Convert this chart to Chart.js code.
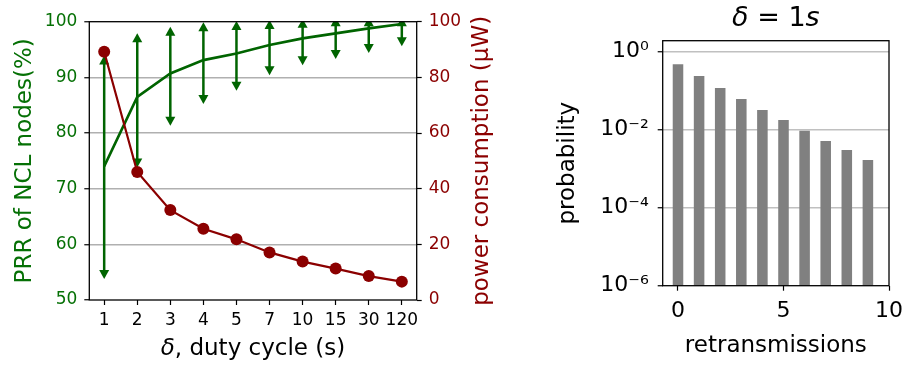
<!DOCTYPE html>
<html>
<head>
<meta charset="utf-8">
<script src="https://cdn.jsdelivr.net/npm/chart.js@4.4.1/dist/chart.umd.min.js"></script>
<style>
    body { margin: 0; background: #fff; }
    #wrap { position: relative; width: 910px; height: 367px; }
    #left { position: absolute; left: 0; top: 0; }
    #right { position: absolute; left: 555px; top: 0; }
</style>
</head>
<body>
<div id="wrap">
    <canvas id="left" width="500" height="367"></canvas>
    <canvas id="right" width="355" height="367"></canvas>
</div>
<script>
// left panel: PRR (with spread) and power vs duty cycle
var dutyCycles = ['1', '2', '3', '4', '5', '7', '10', '15', '30', '120'];
var prrMean = [74.0, 86.5, 90.7, 93.1, 94.3, 95.8, 97.0, 97.9, 98.8, 99.6];
var prrLow = [54.6, 74.6, 82.1, 86.0, 88.4, 91.2, 93.0, 94.1, 95.2, 96.4];
var prrHigh = [93.1, 97.1, 98.3, 99.1, 99.3, 99.5, 99.7, 100, 100, 100];
var powerUW = [89.2, 46.0, 32.3, 25.6, 21.8, 17.1, 13.8, 11.3, 8.6, 6.6];

// right panel: retransmission distribution at delta = 1s
var retransmissions = [0, 1, 2, 3, 4, 5, 6, 7, 8, 9];
var probability = [0.48, 0.24, 0.117, 0.061, 0.032, 0.0177, 0.0094, 0.0051, 0.0030, 0.00166];
var probTicks = [1e-6, 1e-4, 1e-2, 1];
var retxTicks = [0, 5, 10];

var FONT = 'DejaVu Sans';
var GREEN = '#006400';
var GREEN_TXT = '#057005';
var RED = '#8b0000';

Chart.defaults.font.family = FONT;
Chart.defaults.animation = false;

function drawParts(ctx, parts, cx, cy, size, color, vertical) {
    ctx.save();
    ctx.translate(cx, cy);
    if (vertical) ctx.rotate(-Math.PI / 2);
    ctx.fillStyle = color;
    ctx.textBaseline = 'alphabetic';
    ctx.textAlign = 'left';
    var total = 0;
    parts.forEach(p => {
        ctx.font = (p.italic ? 'italic ' : '') + size + 'px "' + FONT + '"';
        p.w = ctx.measureText(p.text).width;
        total += p.w;
    });
    var x = -total / 2;
    parts.forEach(p => {
        ctx.font = (p.italic ? 'italic ' : '') + size + 'px "' + FONT + '"';
        ctx.fillText(p.text, x, 0);
        x += p.w;
    });
    ctx.restore();
}

var framePlugin = {
    id: 'frame',
    afterDatasetsDraw(chart) {
        var a = chart.chartArea, ctx = chart.ctx;
        ctx.save();
        ctx.strokeStyle = '#000';
        ctx.lineWidth = 1.3;
        ctx.strokeRect(a.left, a.top, a.right - a.left, a.bottom - a.top);
        ctx.restore();
    }
};

var errorBarPlugin = {
    id: 'errorBars',
    beforeDatasetsDraw(chart) {
        var ctx = chart.ctx, a = chart.chartArea;
        var xs = chart.scales.x, ys = chart.scales.y;
        ctx.save();
        ctx.beginPath();
        ctx.rect(a.left, a.top, a.right - a.left, a.bottom - a.top);
        ctx.clip();
        ctx.strokeStyle = GREEN;
        ctx.fillStyle = GREEN;
        ctx.lineWidth = 2.5;
        prrMean.forEach((m, i) => {
            var x = xs.getPixelForValue(i);
            var yHi = ys.getPixelForValue(prrHigh[i]);
            var yLo = ys.getPixelForValue(prrLow[i]);
            ctx.beginPath();
            ctx.moveTo(x, yHi);
            ctx.lineTo(x, yLo);
            ctx.stroke();
            // arrow heads centred on the ends
            ctx.beginPath();
            ctx.moveTo(x, yHi - 4.5);
            ctx.lineTo(x - 5, yHi + 4.5);
            ctx.lineTo(x + 5, yHi + 4.5);
            ctx.closePath();
            ctx.fill();
            ctx.beginPath();
            ctx.moveTo(x, yLo + 4.5);
            ctx.lineTo(x - 5, yLo - 4.5);
            ctx.lineTo(x + 5, yLo - 4.5);
            ctx.closePath();
            ctx.fill();
        });
        ctx.restore();
    }
};

var leftLabels = {
    id: 'leftLabels',
    afterDraw(chart) {
        var a = chart.chartArea, ctx = chart.ctx;
        var cx = (a.left + a.right) / 2, cy = (a.top + a.bottom) / 2;
        drawParts(ctx, [{text: 'δ', italic: true}, {text: ', duty cycle (s)'}], cx, 355, 23, '#000');
        drawParts(ctx, [{text: 'PRR of NCL nodes(%)'}], 30.5, cy, 23, GREEN_TXT, true);
        drawParts(ctx, [{text: 'power consumption (µW)'}], a.right + 71, cy, 23, RED, true);
    }
};

new Chart(document.getElementById('left'), {
    type: 'line',
    data: {
        datasets: [
            {
                label: 'power',
                data: powerUW.map((v, i) => ({x: i, y: v})),
                yAxisID: 'y2',
                borderColor: RED,
                backgroundColor: RED,
                borderWidth: 2.2,
                pointRadius: 6,
                pointBorderWidth: 0,
                pointBackgroundColor: RED
            },
            {
                label: 'PRR',
                data: prrMean.map((v, i) => ({x: i, y: v})),
                yAxisID: 'y',
                borderColor: GREEN,
                borderWidth: 2.6,
                pointRadius: 0
            }
        ]
    },
    options: {
        responsive: false,
        layout: { padding: { top: 21.7, left: 0, right: 0, bottom: 0 } },
        plugins: { legend: { display: false }, tooltip: { enabled: false } },
        scales: {
            x: {
                type: 'linear', min: -0.45, max: 9.45,
                afterBuildTicks: s => { s.ticks = dutyCycles.map((d, i) => ({value: i})); },
                afterFit: s => { s.height = 67; },
                ticks: { callback: v => dutyCycles[v], color: '#000', font: {size: 17}, padding: 5, maxRotation: 0, autoSkip: false },
                grid: { drawOnChartArea: false, tickLength: 5, tickColor: '#000', tickWidth: 1.2 },
                border: { display: false }
            },
            y: {
                position: 'left', min: 50, max: 100,
                afterFit: s => { s.width = 89.3; },
                ticks: { stepSize: 10, color: GREEN_TXT, font: {size: 17}, padding: 7 },
                grid: {
                    color: c => (c.tick && (c.tick.value === 50 || c.tick.value === 100)) ? 'rgba(0,0,0,0)' : '#b0b0b0',
                    lineWidth: 1.5, tickLength: 5, tickColor: '#000', tickWidth: 1.2
                },
                border: { display: false }
            },
            y2: {
                position: 'right', min: 0, max: 100,
                afterFit: s => { s.width = 500 - 416.7; },
                ticks: { stepSize: 20, color: RED, font: {size: 17}, padding: 7 },
                grid: { drawOnChartArea: false, tickLength: 5, tickColor: '#000', tickWidth: 1.2 },
                border: { display: false }
            }
        }
    },
    plugins: [errorBarPlugin, framePlugin, leftLabels]
});

var SUP = {'0': '⁰', '1': '¹', '2': '²', '3': '³', '4': '⁴', '5': '⁵', '6': '⁶', '-': '⁻'};
function powLabel(v) {
    var e = Math.round(Math.log10(v));
    return '10' + String(e).split('').map(c => SUP[c]).join('');
}

var rightLabels = {
    id: 'rightLabels',
    afterDraw(chart) {
        var a = chart.chartArea, ctx = chart.ctx;
        var cx = (a.left + a.right) / 2, cy = (a.top + a.bottom) / 2;
        drawParts(ctx, [{text: 'δ', italic: true}, {text: ' = 1'}, {text: 's', italic: true}], cx, 26, 27, '#000');
        drawParts(ctx, [{text: 'retransmissions'}], cx, 351.5, 23, '#000');
        drawParts(ctx, [{text: 'probability'}], 19, cy, 23, '#000', true);
    }
};

new Chart(document.getElementById('right'), {
    type: 'bar',
    data: {
        datasets: [{
            data: retransmissions.map((r, i) => ({x: r, y: probability[i]})),
            backgroundColor: '#808080',
            barPercentage: 0.5,
            categoryPercentage: 1.0
        }]
    },
    options: {
        responsive: false,
        layout: { padding: { top: 40.7, right: 19.3, left: 0, bottom: 0 } },
        plugins: { legend: { display: false }, tooltip: { enabled: false } },
        scales: {
            x: {
                type: 'linear', min: -0.725, max: 10, offset: false,
                afterBuildTicks: s => { s.ticks = retxTicks.map(v => ({value: v})); },
                afterFit: s => { s.height = 367 - 285.7; },
                ticks: { color: '#000', font: {size: 22}, padding: 7, maxRotation: 0 },
                grid: { offset: false, drawOnChartArea: false, tickLength: 5, tickColor: '#000', tickWidth: 1.2 },
                border: { display: false }
            },
            y: {
                type: 'logarithmic', min: 1e-6, max: 1.915,
                afterBuildTicks: s => { s.ticks = probTicks.map(v => ({value: v})); },
                afterFit: s => { s.width = 662.7 - 555; },
                ticks: { callback: v => powLabel(v), color: '#000', font: {size: 22}, padding: 9 },
                grid: {
                    color: c => (c.tick && c.tick.value < 1e-5) ? 'rgba(0,0,0,0)' : '#c0c0c0',
                    lineWidth: 1.5, tickLength: 5, tickColor: '#000', tickWidth: 1.2
                },
                border: { display: false }
            }
        }
    },
    plugins: [framePlugin, rightLabels]
});
</script>
</body>
</html>
